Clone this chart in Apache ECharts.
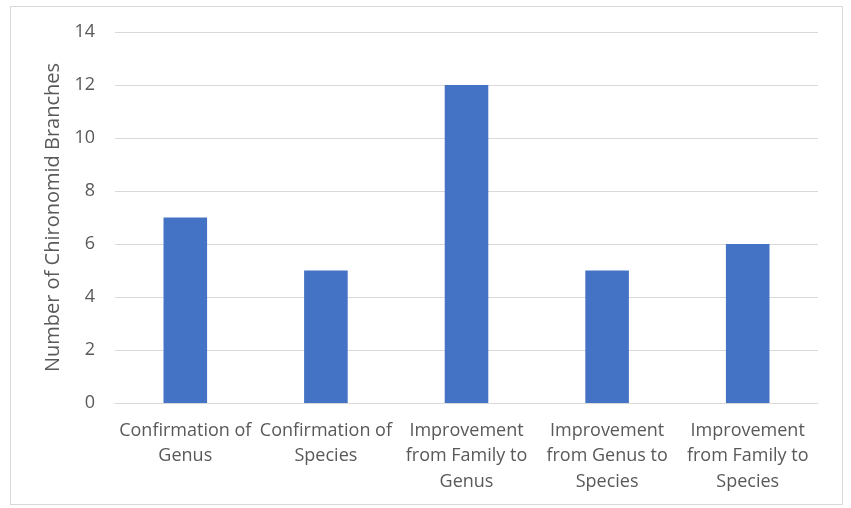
<!DOCTYPE html>
<html><head><meta charset="utf-8">
<script src="https://cdn.jsdelivr.net/npm/echarts@6/dist/echarts.min.js"></script>
<style>html,body{margin:0;padding:0;background:#fff}#frame{position:absolute;left:10px;top:6px;width:833px;height:499px;border:1px solid #d9d9d9;box-sizing:border-box}#c{position:absolute;left:0;top:0;width:851px;height:508px}</style>
</head><body><div id="frame"></div><div id="c"></div>
<script>
const categories = ["Confirmation of\nGenus", "Confirmation of\nSpecies", "Improvement\nfrom Family to\nGenus", "Improvement\nfrom Genus to\nSpecies", "Improvement\nfrom Family to\nSpecies"];
const values = [7, 5, 12, 5, 6];
const yTitle = "Number of Chironomid Branches";
const chart = echarts.init(document.getElementById('c'));
const font = "Open Sans";
chart.setOption({
  animation: false,
  grid: {left: 115, right: 33, top: 32, bottom: 105, containLabel: false},
  xAxis: {type: 'category', data: categories,
    axisLine: {lineStyle: {color: '#d9d9d9', width: 1}}, axisTick: {show: false},
    axisLabel: {color: '#595959', fontFamily: font, fontSize: 18, lineHeight: 25.5, margin: 15, interval: 0}},
  yAxis: {type: 'value', min: 0, max: 14, interval: 2,
    name: yTitle, nameLocation: 'middle', nameGap: 52, nameRotate: 90,
    nameTextStyle: {color: '#595959', fontFamily: font, fontSize: 20},
    axisLine: {show: false}, axisTick: {show: false},
    splitLine: {lineStyle: {color: '#d9d9d9', width: 1}},
    axisLabel: {color: '#595959', fontFamily: font, fontSize: 18, margin: 20}},
  series: [{type: 'bar', data: values, barWidth: '31%', itemStyle: {color: '#4472c4'}}]
});
</script></body></html>
